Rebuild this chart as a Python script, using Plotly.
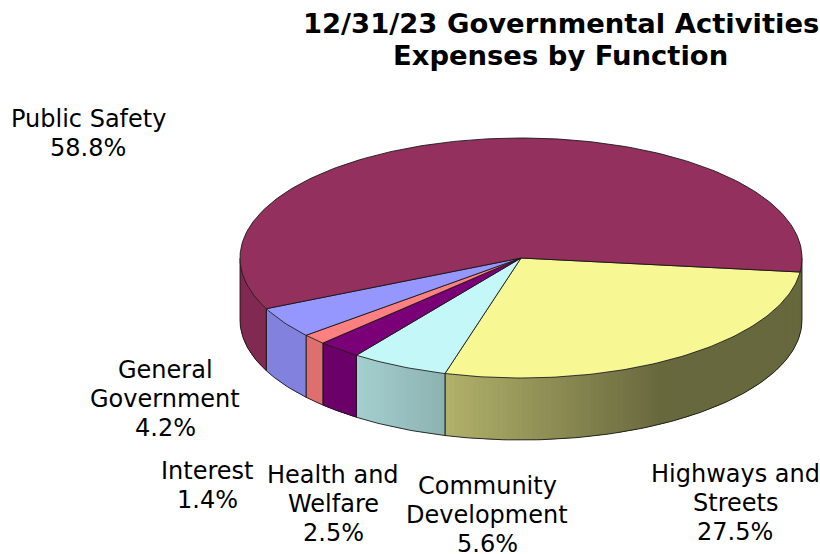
import math
import plotly.graph_objects as go

# Share of expenses by function, in drawing order (clockwise from the right edge)
categories = ["Highways and<br>Streets", "Community<br>Development", "Health and<br>Welfare",
              "Interest", "General<br>Government", "Public Safety"]
percents = [27.5, 5.6, 2.5, 1.4, 4.2, 58.8]
top_colors = ["#F7F794", "#C4F7F7", "#7B0078", "#FF8080", "#9696FF", "#93305E"]

# Centre of each label block's first line on the page
label_x = [735, 487, 333, 207, 165, 88]
label_y = [474, 486, 475, 471, 370, 119]

title_lines = ["12/31/23 Governmental Activities", "Expenses by Function"]
title_y = [23, 55]

# Projected pie geometry
CX, CY = 521, 258
RX, RY = 281, 120
DEPTH = 62
START_DEG = 6.7
EDGE = "rgba(20,20,20,0.85)"
FONT = "DejaVu Sans"
LABEL_SIZE = 24
LABEL_STEP = 29
TITLE_SIZE = 27.4


def pt(deg, drop=0):
    a = math.radians(deg)
    return CX + RX * math.cos(a), CY + RY * math.sin(a) + drop


def shade(x):
    """Wall brightness: light toward the left, dark past the right of centre."""
    if x <= 356:
        return 0.87
    if x >= 660:
        return 0.42
    return 0.84 - (x - 356) * 0.00138


def rgb(hex_color, k):
    r, g, b = (int(hex_color[i:i + 2], 16) for i in (1, 3, 5))
    return f"rgb({r * k:.0f},{g * k:.0f},{b * k:.0f})"


def angle_steps(a, b, step=1.0):
    n = max(2, int(abs(b - a) / step) + 1)
    return [a + (b - a) * i / n for i in range(n + 1)]


# Angular span of every slice
spans = []
angle = START_DEG
for p in percents:
    spans.append((angle, angle + p * 3.6))
    angle += p * 3.6

fig = go.Figure()


def polygon(xs, ys, fill, line=None):
    fig.add_trace(go.Scatter(
        x=xs, y=ys, fill="toself", fillcolor=fill,
        mode="lines" if line else "none",
        line=dict(color=line, width=1) if line else None,
        hoverinfo="skip", showlegend=False,
    ))


def outline(xs, ys):
    fig.add_trace(go.Scatter(
        x=xs, y=ys, mode="lines", line=dict(color=EDGE, width=1),
        hoverinfo="skip", showlegend=False,
    ))


def wall(a, b, color):
    """Outer wall between two angles: a solid base with position-shaded strips over it."""
    ts = angle_steps(a, b)
    top = [pt(t) for t in ts]
    low = [pt(t, DEPTH) for t in reversed(ts)]
    ring = top + low + top[:1]
    polygon([p[0] for p in ring], [p[1] for p in ring], rgb(color, shade(pt((a + b) / 2)[0])))
    for t0, t1 in zip(ts[:-1], ts[1:]):
        x0, y0 = pt(t0)
        x1, y1 = pt(min(t1 + 0.4, b))
        x2, y2 = pt(min(t1 + 0.4, b), DEPTH)
        x3, y3 = pt(t0, DEPTH)
        polygon([x0, x1, x2, x3, x0], [y0, y1, y2, y3, y0], rgb(color, shade((x0 + x1) / 2)))


# Front half of the rim; the first slice's wall also covers the sliver at the far right
for i, ((a0, a1), color) in enumerate(zip(spans, top_colors)):
    vis0, vis1 = (0 if i == 0 else a0), min(a1, 180)
    if vis1 > vis0:
        wall(vis0, vis1, color)
        bottom = [pt(t, DEPTH) for t in angle_steps(vis0, vis1)]
        outline([p[0] for p in bottom], [p[1] for p in bottom])
        for t in (vis0, vis1):
            outline([pt(t)[0], pt(t, DEPTH)[0]], [pt(t)[1], pt(t, DEPTH)[1]])

# Top face
for (a0, a1), color in zip(spans, top_colors):
    rim = [pt(t) for t in angle_steps(a0, a1)]
    xs = [CX] + [p[0] for p in rim] + [CX]
    ys = [CY] + [p[1] for p in rim] + [CY]
    polygon(xs, ys, color, EDGE)


def text_line(text, x, y, size, weight="normal"):
    return dict(x=x, y=y, text=text, showarrow=False, xanchor="center", yanchor="middle",
                font=dict(family=FONT, size=size, color="black", weight=weight))


# Labels are set line by line to hold the tight leading
annotations = []
for name, p, x, y in zip(categories, percents, label_x, label_y):
    for j, line in enumerate(name.split("<br>") + [f"{p:.1f}%"]):
        annotations.append(text_line(line, x, y + j * LABEL_STEP, LABEL_SIZE))
for line, y in zip(title_lines, title_y):
    annotations.append(text_line(line, 560.5, y, TITLE_SIZE, "bold"))

fig.update_layout(
    width=820, height=554, margin=dict(l=0, r=0, t=0, b=0),
    paper_bgcolor="white", plot_bgcolor="white",
    xaxis=dict(range=[0, 820], visible=False, fixedrange=True),
    yaxis=dict(range=[554, 0], visible=False, fixedrange=True),
    annotations=annotations,
)
fig.write_html("out.html", config=dict(displayModeBar=False))
